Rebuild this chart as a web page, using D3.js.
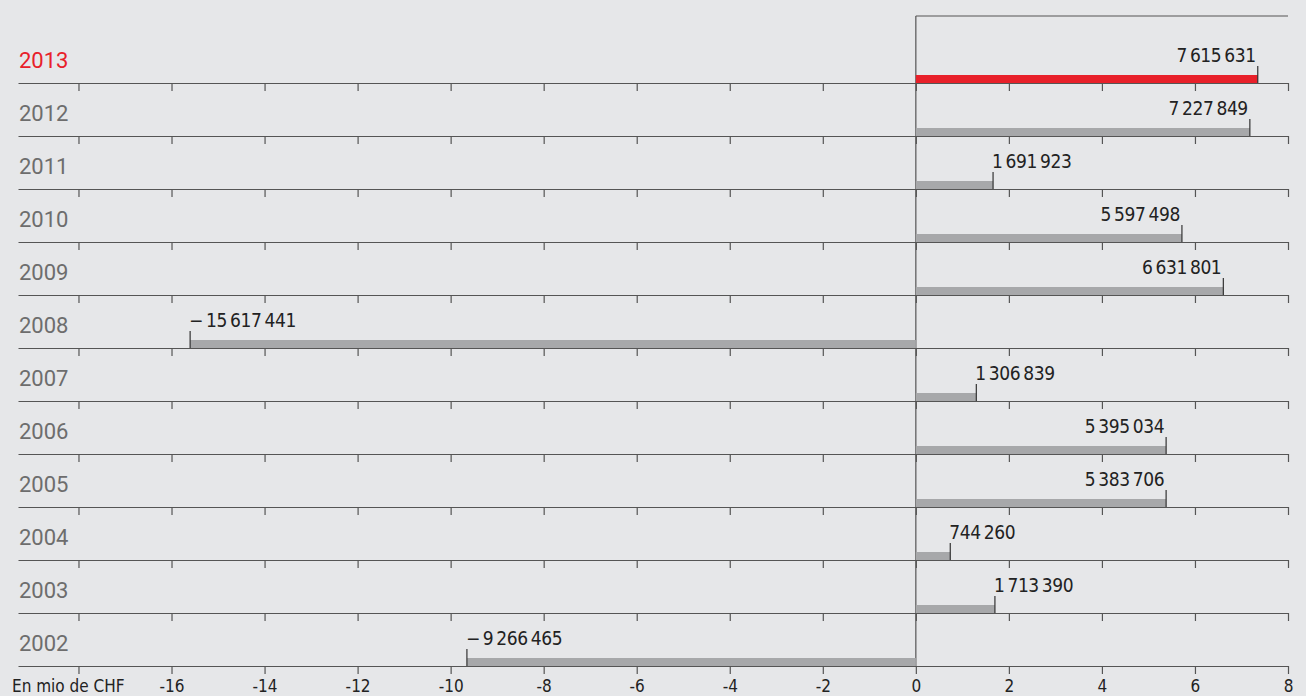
<!DOCTYPE html>
<html>
<head>
<meta charset="utf-8">
<script src="https://cdn.jsdelivr.net/npm/d3@7"></script>
<style>
  body { margin: 0; background: #e6e7e9; }
  svg { display: block; }
  .cond { font-family: 'DejaVu Sans Condensed', 'DejaVu Sans', sans-serif; font-stretch: condensed; }
</style>
</head>
<body>
<script>
// years top to bottom, bar lengths in mio CHF, printed labels
const years = [2013, 2012, 2011, 2010, 2009, 2008, 2007, 2006, 2005, 2004, 2003, 2002];
const values = [7.35, 7.18, 1.66, 5.72, 6.61, -15.6, 1.30, 5.38, 5.38, 0.74, 1.70, -9.65];
const labels = ["7\u2009615\u2009631", "7\u2009227\u2009849", "1\u2009691\u2009923", "5\u2009597\u2009498",
                "6\u2009631\u2009801", "\u2212\u200915\u2009617\u2009441", "1\u2009306\u2009839", "5\u2009395\u2009034",
                "5\u2009383\u2009706", "744\u2009260", "1\u2009713\u2009390", "\u2212\u20099\u2009266\u2009465"];
const tickVals = [-18, -16, -14, -12, -10, -8, -6, -4, -2, 0, 2, 4, 6, 8];
const unitLabel = "En mio de CHF";

const W = 1306, H = 696;
const lineCol = "#555", grey = "#a7a8aa", red = "#e8202a";

const svg = d3.select("body").append("svg")
    .attr("width", W)
    .attr("height", H);

const x = d3.scaleLinear()
    .domain([-19.3, 8])
    .range([18, 1288]);

const y = d3.scaleBand()
    .domain(years)
    .range([30, 666]);

const rowBottom = d => y(d) + y.bandwidth();

// row lines with small ticks hanging down
years.forEach((yr, i) => {
    const last = i === years.length - 1;
    const ax = d3.axisBottom(x)
        .tickValues(tickVals)
        .tickSize(8)
        .tickSizeOuter(0)
        .tickFormat(d => (last && d !== -18) ? String(d) : "");
    const g = svg.append("g")
        .attr("transform", `translate(0,${rowBottom(yr)})`)
        .call(ax);
    g.selectAll("path, line").attr("stroke", lineCol).attr("stroke-width", 1.2);
    g.selectAll("text")
        .attr("class", "cond")
        .attr("y", 26)
        .attr("dy", 0)
        .attr("fill", "#222")
        .style("font-size", "17px");
});

// top line and zero line
svg.append("line")
    .attr("x1", x(0)).attr("x2", x(8))
    .attr("y1", 16).attr("y2", 16)
    .attr("stroke", lineCol).attr("stroke-width", 1.2);
svg.append("line")
    .attr("x1", x(0)).attr("x2", x(0))
    .attr("y1", 16).attr("y2", rowBottom(2002))
    .attr("stroke", lineCol).attr("stroke-width", 1.2);

// bars
svg.selectAll("rect.bar")
    .data(years)
    .join("rect")
    .attr("class", "bar")
    .attr("x", (d, i) => x(Math.min(0, values[i])))
    .attr("width", (d, i) => Math.abs(x(values[i]) - x(0)))
    .attr("y", d => rowBottom(d) - 8)
    .attr("height", 8)
    .attr("fill", (d, i) => i === 0 ? red : grey);

// end markers
svg.selectAll("line.mark")
    .data(years)
    .join("line")
    .attr("class", "mark")
    .attr("x1", (d, i) => x(values[i]))
    .attr("x2", (d, i) => x(values[i]))
    .attr("y1", d => rowBottom(d) - 17)
    .attr("y2", d => rowBottom(d))
    .attr("stroke", "#333")
    .attr("stroke-width", 1.2);

// value labels
svg.selectAll("text.val")
    .data(years)
    .join("text")
    .attr("class", "val cond")
    .attr("x", (d, i) => values[i] > 3 ? x(values[i]) - 2 : x(values[i]) - 1)
    .attr("y", d => rowBottom(d) - 21)
    .attr("text-anchor", (d, i) => values[i] > 3 ? "end" : "start")
    .attr("fill", "#222")
    .style("font-size", "19px")
    .style("letter-spacing", "-0.4px")
    .text((d, i) => labels[i]);

// year labels
svg.selectAll("text.year")
    .data(years)
    .join("text")
    .attr("class", "year")
    .attr("x", 19)
    .attr("y", d => rowBottom(d) - 15)
    .attr("fill", (d, i) => i === 0 ? red : "#6d6d6d")
    .style("font-family", "Roboto, sans-serif")
    .style("font-size", "22px")
    .text(d => d);

// unit label
svg.append("text")
    .attr("class", "cond")
    .attr("x", 12)
    .attr("y", 692)
    .attr("fill", "#222")
    .style("font-size", "17px")
    .text(unitLabel);
</script>
</body>
</html>
